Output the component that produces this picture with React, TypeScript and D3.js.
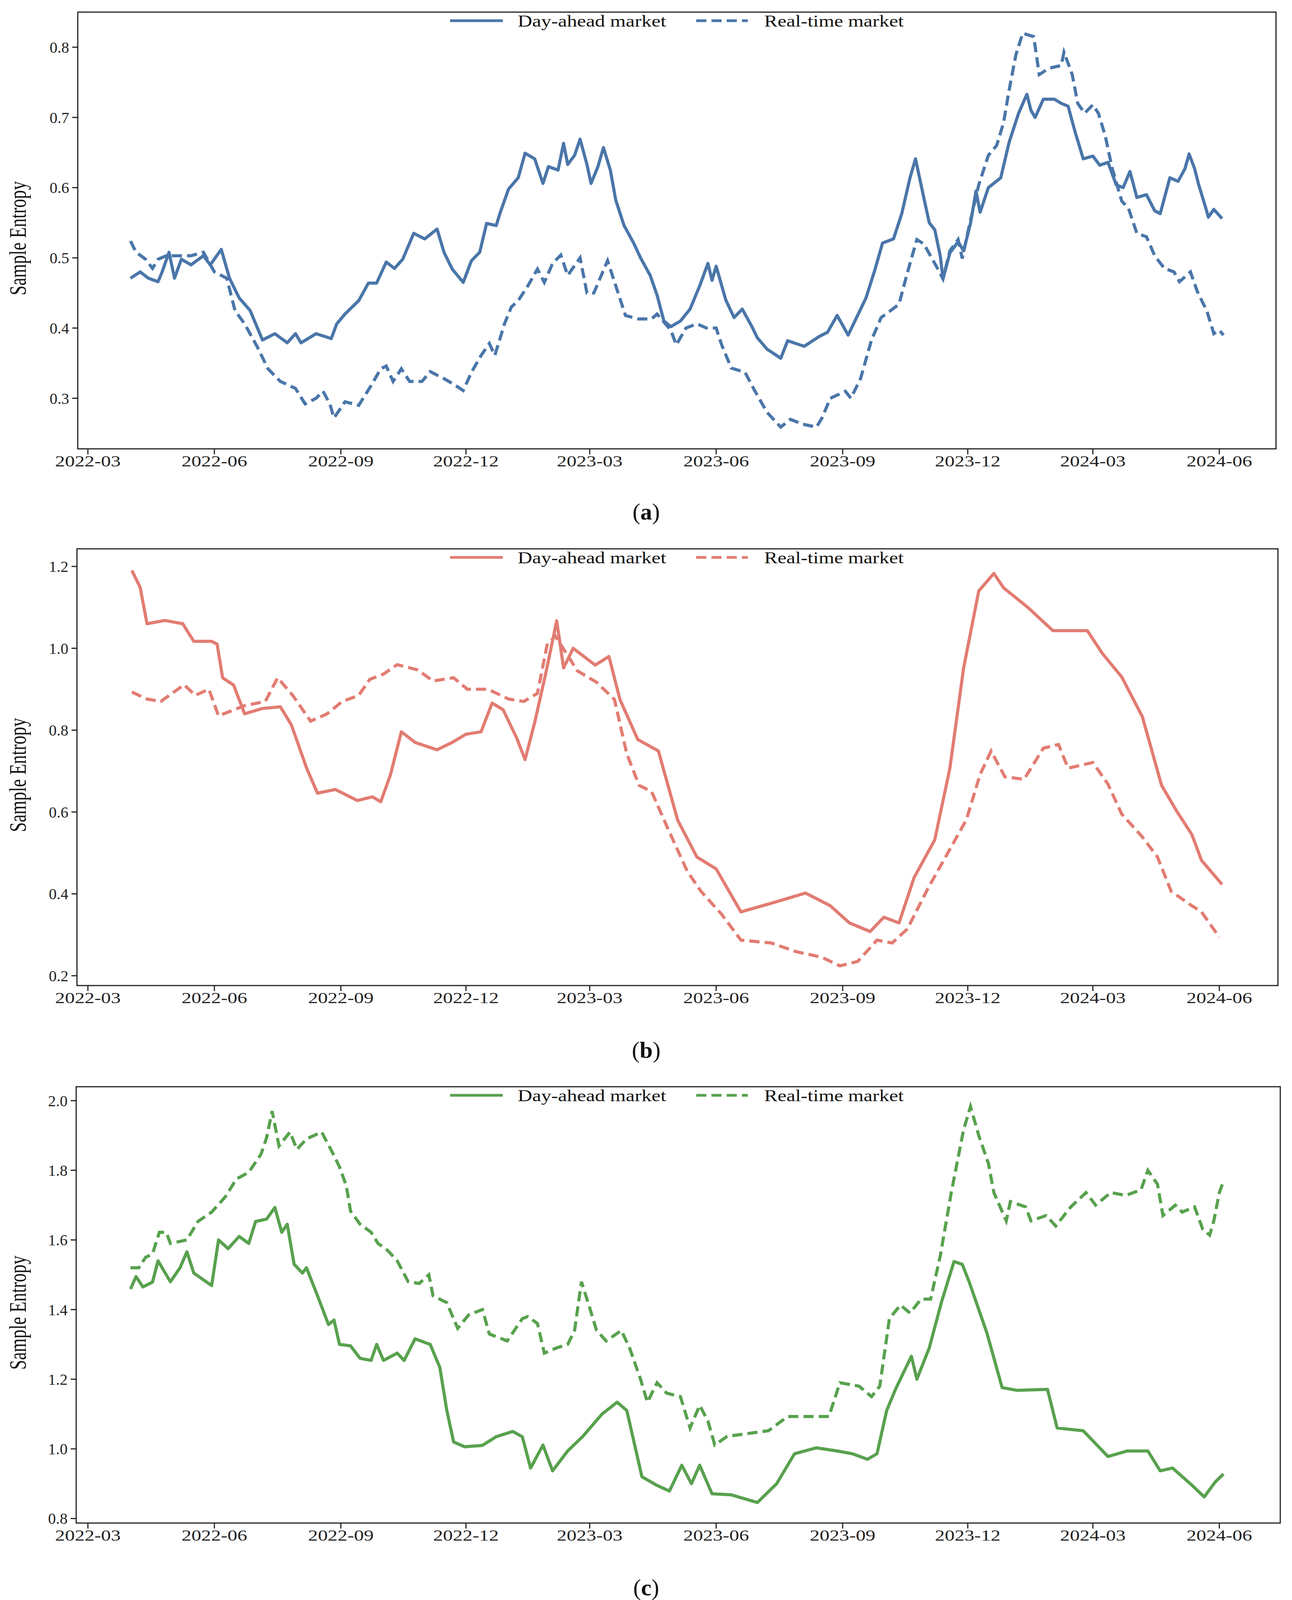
import React from 'react';
import * as d3 from 'd3';

type Pt = [string, number];

// ---- panel (a) ----
const dayAheadA: Pt[] = [
  ['2022-04-01', 0.471], ['2022-04-08', 0.48], ['2022-04-14', 0.471], ['2022-04-21', 0.466], ['2022-04-24', 0.48],
  ['2022-04-29', 0.508], ['2022-05-03', 0.471], ['2022-05-08', 0.498], ['2022-05-15', 0.49], ['2022-05-24', 0.503],
  ['2022-05-29', 0.49], ['2022-06-06', 0.512], ['2022-06-12', 0.471], ['2022-06-19', 0.443], ['2022-06-27', 0.425],
  ['2022-07-06', 0.383], ['2022-07-15', 0.392], ['2022-07-24', 0.379], ['2022-07-30', 0.392], ['2022-08-03', 0.379],
  ['2022-08-14', 0.392], ['2022-08-25', 0.385], ['2022-08-29', 0.406], ['2022-09-04', 0.42], ['2022-09-14', 0.439],
  ['2022-09-21', 0.464], ['2022-09-27', 0.464], ['2022-10-04', 0.494], ['2022-10-10', 0.485], ['2022-10-16', 0.498],
  ['2022-10-24', 0.535], ['2022-11-01', 0.527], ['2022-11-10', 0.541], ['2022-11-15', 0.508], ['2022-11-21', 0.484],
  ['2022-11-29', 0.465], ['2022-12-05', 0.496], ['2022-12-11', 0.508], ['2022-12-16', 0.549], ['2022-12-23', 0.546],
  ['2022-12-26', 0.565], ['2023-01-01', 0.598], ['2023-01-08', 0.614], ['2023-01-13', 0.649], ['2023-01-20', 0.641],
  ['2023-01-26', 0.606], ['2023-01-30', 0.63], ['2023-02-06', 0.625], ['2023-02-10', 0.663], ['2023-02-13', 0.633],
  ['2023-02-18', 0.646], ['2023-02-22', 0.669], ['2023-02-27', 0.633], ['2023-03-02', 0.606], ['2023-03-07', 0.63],
  ['2023-03-11', 0.657], ['2023-03-16', 0.625], ['2023-03-20', 0.582], ['2023-03-26', 0.546], ['2023-04-02', 0.521],
  ['2023-04-07', 0.5], ['2023-04-14', 0.475], ['2023-04-19', 0.447], ['2023-04-24', 0.41], ['2023-04-29', 0.402],
  ['2023-05-06', 0.41], ['2023-05-13', 0.427], ['2023-05-20', 0.46], ['2023-05-26', 0.492], ['2023-05-29', 0.468],
  ['2023-06-01', 0.488], ['2023-06-08', 0.44], ['2023-06-14', 0.415], ['2023-06-20', 0.427], ['2023-06-27', 0.402],
  ['2023-07-01', 0.386], ['2023-07-08', 0.37], ['2023-07-18', 0.357], ['2023-07-23', 0.382], ['2023-08-04', 0.374],
  ['2023-08-15', 0.388], ['2023-08-21', 0.394], ['2023-08-28', 0.418], ['2023-09-05', 0.39], ['2023-09-18', 0.443],
  ['2023-09-24', 0.48], ['2023-09-30', 0.521], ['2023-10-08', 0.527], ['2023-10-14', 0.563], ['2023-10-20', 0.614],
  ['2023-10-24', 0.641], ['2023-10-30', 0.586], ['2023-11-03', 0.55], ['2023-11-07', 0.54], ['2023-11-11', 0.503],
  ['2023-11-13', 0.47], ['2023-11-18', 0.507], ['2023-11-24', 0.523], ['2023-11-28', 0.51], ['2023-12-03', 0.549],
  ['2023-12-07', 0.595], ['2023-12-10', 0.565], ['2023-12-16', 0.6], ['2023-12-25', 0.614], ['2023-12-31', 0.664],
  ['2024-01-07', 0.706], ['2024-01-13', 0.733], ['2024-01-16', 0.71], ['2024-01-19', 0.7], ['2024-01-25', 0.726],
  ['2024-02-02', 0.726], ['2024-02-07', 0.72], ['2024-02-12', 0.716], ['2024-02-17', 0.68], ['2024-02-23', 0.641],
  ['2024-03-01', 0.645], ['2024-03-06', 0.632], ['2024-03-12', 0.636], ['2024-03-18', 0.604], ['2024-03-23', 0.6],
  ['2024-03-28', 0.623], ['2024-04-02', 0.586], ['2024-04-09', 0.59], ['2024-04-15', 0.567], ['2024-04-19', 0.563],
  ['2024-04-26', 0.614], ['2024-05-02', 0.609], ['2024-05-07', 0.627], ['2024-05-10', 0.648], ['2024-05-14', 0.627],
  ['2024-05-17', 0.604], ['2024-05-22', 0.572], ['2024-05-24', 0.558], ['2024-05-28', 0.569], ['2024-06-03', 0.556],
];
const realTimeA: Pt[] = [
  ['2022-04-01', 0.524], ['2022-04-05', 0.508], ['2022-04-12', 0.498], ['2022-04-17', 0.485], ['2022-04-21', 0.498],
  ['2022-04-27', 0.503], ['2022-05-06', 0.503], ['2022-05-15', 0.503], ['2022-05-24', 0.508], ['2022-06-01', 0.48],
  ['2022-06-10', 0.471], ['2022-06-16', 0.425], ['2022-06-23', 0.406], ['2022-07-02', 0.374], ['2022-07-10', 0.342],
  ['2022-07-19', 0.324], ['2022-07-30', 0.314], ['2022-08-06', 0.292], ['2022-08-14', 0.3], ['2022-08-19', 0.31],
  ['2022-08-24', 0.292], ['2022-08-27', 0.272], ['2022-09-04', 0.295], ['2022-09-14', 0.29], ['2022-09-23', 0.318],
  ['2022-09-30', 0.342], ['2022-10-04', 0.346], ['2022-10-09', 0.324], ['2022-10-15', 0.342], ['2022-10-21', 0.324],
  ['2022-10-30', 0.324], ['2022-11-05', 0.338], ['2022-11-15', 0.328], ['2022-11-22', 0.32], ['2022-11-29', 0.311],
  ['2022-12-05', 0.337], ['2022-12-12', 0.361], ['2022-12-18', 0.378], ['2022-12-22', 0.361], ['2022-12-29', 0.406],
  ['2023-01-03', 0.43], ['2023-01-08', 0.439], ['2023-01-15', 0.46], ['2023-01-22', 0.484], ['2023-01-27', 0.465],
  ['2023-02-02', 0.492], ['2023-02-08', 0.504], ['2023-02-13', 0.475], ['2023-02-22', 0.5], ['2023-02-27', 0.45],
  ['2023-03-04', 0.45], ['2023-03-14', 0.496], ['2023-03-20', 0.46], ['2023-03-27', 0.418], ['2023-04-05', 0.413],
  ['2023-04-15', 0.413], ['2023-04-19', 0.42], ['2023-04-29', 0.397], ['2023-05-03', 0.376], ['2023-05-10', 0.4],
  ['2023-05-18', 0.406], ['2023-05-25', 0.4], ['2023-06-01', 0.4], ['2023-06-05', 0.376], ['2023-06-12', 0.343],
  ['2023-06-22', 0.337], ['2023-06-29', 0.311], ['2023-07-08', 0.28], ['2023-07-18', 0.259], ['2023-07-25', 0.27],
  ['2023-08-03', 0.263], ['2023-08-13', 0.259], ['2023-08-17', 0.272], ['2023-08-23', 0.3], ['2023-09-03', 0.31],
  ['2023-09-07', 0.3], ['2023-09-14', 0.328], ['2023-09-22', 0.383], ['2023-09-29', 0.415], ['2023-10-06', 0.425],
  ['2023-10-12', 0.434], ['2023-10-17', 0.471], ['2023-10-21', 0.499], ['2023-10-25', 0.526], ['2023-10-30', 0.52],
  ['2023-11-05', 0.499], ['2023-11-09', 0.485], ['2023-11-13', 0.47], ['2023-11-18', 0.51], ['2023-11-24', 0.526],
  ['2023-11-27', 0.499], ['2023-12-02', 0.545], ['2023-12-09', 0.604], ['2023-12-16', 0.646], ['2023-12-22', 0.66],
  ['2023-12-27', 0.692], ['2023-12-31', 0.738], ['2024-01-05', 0.789], ['2024-01-10', 0.82], ['2024-01-18', 0.815],
  ['2024-01-22', 0.761], ['2024-01-29', 0.77], ['2024-02-07', 0.774], ['2024-02-09', 0.793], ['2024-02-15', 0.761],
  ['2024-02-19', 0.72], ['2024-02-24', 0.706], ['2024-03-01', 0.718], ['2024-03-05', 0.706], ['2024-03-10', 0.674],
  ['2024-03-15', 0.628], ['2024-03-22', 0.581], ['2024-03-27', 0.57], ['2024-04-02', 0.535], ['2024-04-09', 0.53],
  ['2024-04-15', 0.503], ['2024-04-22', 0.485], ['2024-04-29', 0.48], ['2024-05-03', 0.466], ['2024-05-11', 0.48],
  ['2024-05-16', 0.452], ['2024-05-23', 0.424], ['2024-05-28', 0.392], ['2024-06-01', 0.397], ['2024-06-04', 0.39],
];

// ---- panel (b) ----
const dayAheadB: Pt[] = [
  ['2022-04-02', 1.19], ['2022-04-08', 1.149], ['2022-04-13', 1.06], ['2022-04-26', 1.068], ['2022-05-09', 1.06],
  ['2022-05-17', 1.017], ['2022-05-30', 1.017], ['2022-06-03', 1.01], ['2022-06-07', 0.928], ['2022-06-15', 0.91],
  ['2022-06-23', 0.84], ['2022-07-06', 0.853], ['2022-07-19', 0.857], ['2022-07-27', 0.813], ['2022-08-07', 0.708],
  ['2022-08-15', 0.646], ['2022-08-28', 0.655], ['2022-09-13', 0.628], ['2022-09-24', 0.637], ['2022-09-30', 0.625],
  ['2022-10-07', 0.69], ['2022-10-15', 0.796], ['2022-10-25', 0.77], ['2022-11-10', 0.752], ['2022-11-21', 0.77],
  ['2022-12-01', 0.79], ['2022-12-12', 0.796], ['2022-12-20', 0.866], ['2022-12-28', 0.85], ['2023-01-07', 0.78],
  ['2023-01-13', 0.728], ['2023-01-20', 0.819], ['2023-01-28', 0.938], ['2023-02-05', 1.067], ['2023-02-10', 0.952],
  ['2023-02-17', 1.0], ['2023-03-05', 0.959], ['2023-03-15', 0.98], ['2023-03-23', 0.875], ['2023-04-05', 0.777],
  ['2023-04-20', 0.749], ['2023-05-04', 0.58], ['2023-05-18', 0.49], ['2023-06-01', 0.461], ['2023-06-19', 0.356],
  ['2023-07-11', 0.377], ['2023-08-05', 0.402], ['2023-08-23', 0.371], ['2023-09-06', 0.329], ['2023-09-21', 0.308],
  ['2023-10-01', 0.343], ['2023-10-12', 0.329], ['2023-10-23', 0.44], ['2023-11-07', 0.532], ['2023-11-18', 0.707],
  ['2023-11-28', 0.952], ['2023-12-09', 1.14], ['2023-12-20', 1.183], ['2023-12-27', 1.148], ['2024-01-14', 1.099],
  ['2024-02-01', 1.043], ['2024-02-26', 1.043], ['2024-03-08', 0.987], ['2024-03-22', 0.93], ['2024-04-06', 0.833],
  ['2024-04-20', 0.665], ['2024-05-01', 0.602], ['2024-05-12', 0.545], ['2024-05-19', 0.482], ['2024-06-03', 0.423],
];
const realTimeB: Pt[] = [
  ['2022-04-02', 0.893], ['2022-04-13', 0.876], ['2022-04-23', 0.87], ['2022-05-10', 0.911], ['2022-05-18', 0.885],
  ['2022-05-28', 0.9], ['2022-06-04', 0.835], ['2022-06-23', 0.86], ['2022-07-08', 0.87], ['2022-07-17', 0.928],
  ['2022-07-28', 0.885], ['2022-08-10', 0.822], ['2022-08-22', 0.84], ['2022-09-02', 0.87], ['2022-09-14', 0.885],
  ['2022-09-22', 0.924], ['2022-10-02', 0.937], ['2022-10-12', 0.96], ['2022-10-27', 0.947], ['2022-11-07', 0.92],
  ['2022-11-22', 0.928], ['2022-12-02', 0.9], ['2022-12-17', 0.9], ['2023-01-01', 0.876], ['2023-01-12', 0.87],
  ['2023-01-22', 0.89], ['2023-01-29', 1.008], ['2023-02-04', 1.03], ['2023-02-20', 0.945], ['2023-03-06', 0.917],
  ['2023-03-19', 0.875], ['2023-03-28', 0.742], ['2023-04-06', 0.665], ['2023-04-15', 0.65], ['2023-04-26', 0.566],
  ['2023-05-11', 0.455], ['2023-05-21', 0.406], ['2023-06-05', 0.35], ['2023-06-19', 0.287], ['2023-07-11', 0.28],
  ['2023-07-29', 0.259], ['2023-08-17', 0.245], ['2023-08-30', 0.224], ['2023-09-12', 0.235], ['2023-09-26', 0.287],
  ['2023-10-07', 0.28], ['2023-10-18', 0.314], ['2023-11-02', 0.413], ['2023-11-16', 0.497], ['2023-11-30', 0.581],
  ['2023-12-10', 0.692], ['2023-12-18', 0.749], ['2023-12-28', 0.686], ['2024-01-11', 0.68], ['2024-01-25', 0.756],
  ['2024-02-05', 0.765], ['2024-02-12', 0.707], ['2024-03-01', 0.721], ['2024-03-12', 0.668], ['2024-03-22', 0.595],
  ['2024-04-06', 0.539], ['2024-04-17', 0.49], ['2024-04-27', 0.406], ['2024-05-12', 0.371], ['2024-05-19', 0.356],
  ['2024-06-01', 0.294],
];

// ---- panel (c) ----
const dayAheadC: Pt[] = [
  ['2022-04-01', 1.459], ['2022-04-05', 1.495], ['2022-04-10', 1.465], ['2022-04-17', 1.479], ['2022-04-21', 1.54],
  ['2022-04-30', 1.48], ['2022-05-07', 1.52], ['2022-05-12', 1.566], ['2022-05-17', 1.505], ['2022-05-30', 1.469],
  ['2022-06-04', 1.6], ['2022-06-11', 1.575], ['2022-06-19', 1.61], ['2022-06-26', 1.59], ['2022-07-01', 1.653],
  ['2022-07-09', 1.66], ['2022-07-15', 1.693], ['2022-07-20', 1.622], ['2022-07-24', 1.645], ['2022-07-29', 1.53],
  ['2022-08-04', 1.505], ['2022-08-07', 1.52], ['2022-08-15', 1.44], ['2022-08-23', 1.357], ['2022-08-27', 1.37],
  ['2022-08-31', 1.3], ['2022-09-08', 1.296], ['2022-09-15', 1.26], ['2022-09-23', 1.254], ['2022-09-27', 1.3],
  ['2022-10-02', 1.254], ['2022-10-12', 1.275], ['2022-10-17', 1.254], ['2022-10-25', 1.316], ['2022-11-05', 1.3],
  ['2022-11-12', 1.234], ['2022-11-17', 1.112], ['2022-11-22', 1.02], ['2022-11-30', 1.006], ['2022-12-13', 1.01],
  ['2022-12-23', 1.035], ['2023-01-04', 1.05], ['2023-01-11', 1.035], ['2023-01-17', 0.945], ['2023-01-26', 1.011],
  ['2023-02-02', 0.937], ['2023-02-13', 0.994], ['2023-02-24', 1.036], ['2023-03-10', 1.1], ['2023-03-21', 1.134],
  ['2023-03-28', 1.11], ['2023-04-08', 0.92], ['2023-04-19', 0.895], ['2023-04-28', 0.879], ['2023-05-07', 0.953],
  ['2023-05-14', 0.9], ['2023-05-20', 0.953], ['2023-05-29', 0.871], ['2023-06-12', 0.868], ['2023-07-01', 0.846],
  ['2023-07-15', 0.9], ['2023-07-28', 0.986], ['2023-08-13', 1.003], ['2023-08-28', 0.994], ['2023-09-08', 0.986],
  ['2023-09-19', 0.97], ['2023-09-26', 0.986], ['2023-10-03', 1.11], ['2023-10-10', 1.176], ['2023-10-21', 1.266],
  ['2023-10-25', 1.2], ['2023-11-03', 1.29], ['2023-11-12', 1.423], ['2023-11-21', 1.538], ['2023-11-27', 1.53],
  ['2023-12-02', 1.48], ['2023-12-15', 1.332], ['2023-12-26', 1.176], ['2024-01-06', 1.168], ['2024-01-28', 1.171],
  ['2024-02-04', 1.06], ['2024-02-23', 1.052], ['2024-03-12', 0.978], ['2024-03-26', 0.994], ['2024-04-10', 0.994],
  ['2024-04-19', 0.937], ['2024-04-28', 0.945], ['2024-05-12', 0.896], ['2024-05-21', 0.862], ['2024-05-29', 0.905],
  ['2024-06-04', 0.928],
];
const realTimeC: Pt[] = [
  ['2022-04-01', 1.52], ['2022-04-07', 1.52], ['2022-04-12', 1.55], ['2022-04-17', 1.56], ['2022-04-22', 1.622],
  ['2022-04-27', 1.622], ['2022-04-30', 1.59], ['2022-05-12', 1.6], ['2022-05-20', 1.653], ['2022-05-30', 1.68],
  ['2022-06-09', 1.724], ['2022-06-17', 1.775], ['2022-06-26', 1.794], ['2022-07-05', 1.847], ['2022-07-09', 1.894],
  ['2022-07-13', 1.97], ['2022-07-18', 1.87], ['2022-07-26', 1.91], ['2022-07-31', 1.86], ['2022-08-07', 1.89],
  ['2022-08-18', 1.91], ['2022-08-26', 1.85], ['2022-08-31', 1.81], ['2022-09-05', 1.755], ['2022-09-08', 1.683],
  ['2022-09-15', 1.645], ['2022-09-23', 1.622], ['2022-09-28', 1.59], ['2022-10-05', 1.57], ['2022-10-12', 1.54],
  ['2022-10-20', 1.48], ['2022-10-28', 1.475], ['2022-11-04', 1.5], ['2022-11-07', 1.44], ['2022-11-17', 1.42],
  ['2022-11-25', 1.346], ['2022-12-03', 1.385], ['2022-12-13', 1.4], ['2022-12-18', 1.33], ['2022-12-31', 1.31],
  ['2023-01-11', 1.374], ['2023-01-15', 1.38], ['2023-01-22', 1.36], ['2023-01-27', 1.275], ['2023-02-05', 1.29],
  ['2023-02-13', 1.3], ['2023-02-18', 1.34], ['2023-02-23', 1.48], ['2023-03-01', 1.405], ['2023-03-06', 1.34],
  ['2023-03-13', 1.31], ['2023-03-24', 1.34], ['2023-03-30', 1.29], ['2023-04-07', 1.2], ['2023-04-12', 1.134],
  ['2023-04-19', 1.19], ['2023-04-26', 1.16], ['2023-05-06', 1.15], ['2023-05-13', 1.06], ['2023-05-20', 1.125],
  ['2023-05-26', 1.08], ['2023-05-31', 1.011], ['2023-06-09', 1.036], ['2023-06-24', 1.044], ['2023-07-09', 1.052],
  ['2023-07-23', 1.093], ['2023-08-08', 1.093], ['2023-08-22', 1.093], ['2023-08-30', 1.19], ['2023-09-13', 1.18],
  ['2023-09-22', 1.15], ['2023-09-28', 1.18], ['2023-10-05', 1.374], ['2023-10-13', 1.413], ['2023-10-20', 1.39],
  ['2023-10-28', 1.43], ['2023-11-04', 1.43], ['2023-11-11', 1.554], ['2023-11-19', 1.736], ['2023-11-28', 1.917],
  ['2023-12-03', 1.983], ['2023-12-09', 1.9], ['2023-12-16', 1.82], ['2023-12-20', 1.736], ['2023-12-29', 1.655],
  ['2024-01-01', 1.71], ['2024-01-12', 1.695], ['2024-01-16', 1.655], ['2024-01-27', 1.67], ['2024-02-03', 1.64],
  ['2024-02-14', 1.695], ['2024-02-25', 1.736], ['2024-03-03', 1.7], ['2024-03-14', 1.736], ['2024-03-25', 1.728],
  ['2024-04-05', 1.744], ['2024-04-10', 1.8], ['2024-04-17', 1.76], ['2024-04-21', 1.67], ['2024-04-30', 1.7],
  ['2024-05-05', 1.68], ['2024-05-14', 1.695], ['2024-05-20', 1.63], ['2024-05-25', 1.614], ['2024-05-28', 1.655],
  ['2024-06-01', 1.736], ['2024-06-04', 1.768],
];

const xTickDates = ['2022-03', '2022-06', '2022-09', '2022-12', '2023-03', '2023-06', '2023-09', '2023-12', '2024-03', '2024-06'];
const legendLabels = ['Day-ahead market', 'Real-time market'];

interface PanelSpec {
  id: string;
  color: string;
  da: Pt[];
  rt: Pt[];
  box: { left: number; right: number; top: number; bottom: number };
  yDomain: [number, number];
  yTicks: number[];
  captionY: number;
}

const panels: PanelSpec[] = [
  {
    id: 'a', color: '#4a76a9', da: dayAheadA, rt: realTimeA,
    box: { left: 199, right: 3266, top: 31, bottom: 1149 },
    yDomain: [0.228, 0.85], yTicks: [0.3, 0.4, 0.5, 0.6, 0.7, 0.8], captionY: 1330,
  },
  {
    id: 'b', color: '#e27c72', da: dayAheadB, rt: realTimeB,
    box: { left: 197, right: 3271, top: 1405, bottom: 2523 },
    yDomain: [0.176, 1.243], yTicks: [0.2, 0.4, 0.6, 0.8, 1.0, 1.2], captionY: 2708,
  },
  {
    id: 'c', color: '#58a14e', da: dayAheadC, rt: realTimeC,
    box: { left: 195, right: 3277, top: 2782, bottom: 3899 },
    yDomain: [0.787, 2.04], yTicks: [0.8, 1.0, 1.2, 1.4, 1.6, 1.8, 2.0], captionY: 4084,
  },
];

const parse = d3.utcParse('%Y-%m-%d');
const parseMonth = d3.utcParse('%Y-%m');
const FONT = '"Liberation Serif", "DejaVu Serif", serif';

function Panel({ p }: { p: PanelSpec }) {
  const { left, right, top, bottom } = p.box;
  // 2022-03-01 sits at x≈225 and 2024-06-01 at x≈3121 in every panel
  const x = d3.scaleUtc().domain([parse('2022-03-01')!, parse('2024-06-01')!]).range([225, 3121]);
  const y = d3.scaleLinear().domain(p.yDomain).range([bottom, top]);
  const line = d3.line<Pt>().x(d => x(parse(d[0])!)).y(d => y(d[1]));
  const fmt = d3.format('.1f');
  const legY = top + 22;
  const midY = (top + bottom) / 2;

  return (
    <g>
      <path d={line(p.da) || ''} fill="none" stroke={p.color} strokeWidth={8} strokeLinejoin="round" />
      <path d={line(p.rt) || ''} fill="none" stroke={p.color} strokeWidth={8} strokeDasharray="26,13" />
      <rect x={left} y={top} width={right - left} height={bottom - top} fill="none" stroke="#222" strokeWidth={3} />

      {p.yTicks.map(t => (
        <g key={t}>
          <line x1={left - 14} x2={left} y1={y(t)} y2={y(t)} stroke="#222" strokeWidth={3} />
          <text x={left - 22} y={y(t)} dy="0.35em" textAnchor="end" fontSize={40} fontFamily={FONT} fill="#222">{fmt(t)}</text>
        </g>
      ))}
      {xTickDates.map(t => {
        const xv = x(parseMonth(t)!);
        return (
          <g key={t}>
            <line x1={xv} x2={xv} y1={bottom} y2={bottom + 14} stroke="#222" strokeWidth={3} />
            <text x={xv} y={bottom + 45} textAnchor="middle" fontSize={40} fontFamily={FONT} fill="#222"
              textLength={168} lengthAdjust="spacingAndGlyphs">{t}</text>
          </g>
        );
      })}

      <text transform={`translate(66,${midY + 20}) rotate(-90)`} textAnchor="middle" fontSize={62} fontFamily={FONT}
        fill="#111" textLength={292} lengthAdjust="spacingAndGlyphs">Sample Entropy</text>

      {/* legend */}
      <line x1={1152} x2={1287} y1={legY} y2={legY} stroke={p.color} strokeWidth={7} />
      <text x={1325} y={legY} dy="0.35em" fontSize={42} fontFamily={FONT} fill="#111"
        textLength={380} lengthAdjust="spacingAndGlyphs">{legendLabels[0]}</text>
      <line x1={1782} x2={1914} y1={legY} y2={legY} stroke={p.color} strokeWidth={7} strokeDasharray="26,13" />
      <text x={1956} y={legY} dy="0.35em" fontSize={42} fontFamily={FONT} fill="#111"
        textLength={357} lengthAdjust="spacingAndGlyphs">{legendLabels[1]}</text>

      <text x={1654} y={p.captionY} textAnchor="middle" fontSize={60} fontFamily={FONT} fill="#111">
        (<tspan fontWeight="bold">{p.id}</tspan>)
      </text>
    </g>
  );
}

export default function App() {
  return (
    <svg width={3307} height={4126} style={{ position: 'absolute', left: 0, top: 0, background: '#fff' }}>
      <rect width={3307} height={4126} fill="#fff" />
      {panels.map(p => <Panel key={p.id} p={p} />)}
    </svg>
  );
}
